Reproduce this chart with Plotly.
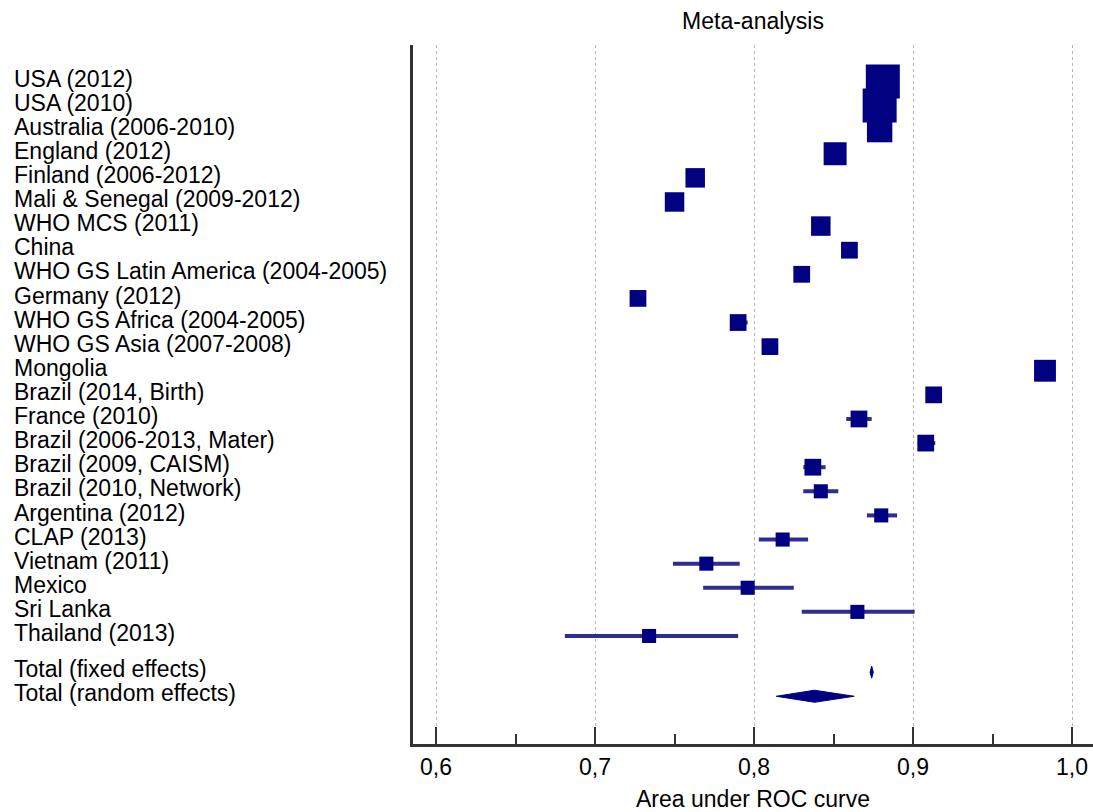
import numpy as np
import plotly.graph_objects as go

# Studies, top to bottom
studies = [
    "USA (2012)", "USA (2010)", "Australia (2006-2010)", "England (2012)",
    "Finland (2006-2012)", "Mali & Senegal (2009-2012)", "WHO MCS (2011)", "China",
    "WHO GS Latin America (2004-2005)", "Germany (2012)", "WHO GS Africa (2004-2005)",
    "WHO GS Asia (2007-2008)", "Mongolia", "Brazil (2014, Birth)", "France (2010)",
    "Brazil (2006-2013, Mater)", "Brazil (2009, CAISM)", "Brazil (2010, Network)",
    "Argentina (2012)", "CLAP (2013)", "Vietnam (2011)", "Mexico", "Sri Lanka",
    "Thailand (2013)",
]
# Area under ROC curve with 95% CI
auc = [0.881, 0.879, 0.879, 0.851, 0.763, 0.750, 0.842, 0.860, 0.830, 0.727, 0.790,
       0.810, 0.983, 0.913, 0.866, 0.908, 0.837, 0.842, 0.880, 0.818, 0.770, 0.796,
       0.865, 0.734]
ci_low = [0.880, 0.878, 0.877, 0.848, 0.759, 0.746, 0.839, 0.856, 0.826, 0.722, 0.786,
          0.805, 0.980, 0.909, 0.858, 0.903, 0.831, 0.831, 0.871, 0.803, 0.749, 0.768,
          0.830, 0.681]
ci_high = [0.882, 0.881, 0.881, 0.853, 0.766, 0.754, 0.845, 0.864, 0.835, 0.732, 0.796,
           0.815, 0.987, 0.917, 0.874, 0.914, 0.845, 0.853, 0.890, 0.834, 0.791, 0.825,
           0.901, 0.790]
# Relative study weight (%)
weight = [7.0, 7.0, 3.9, 3.2, 2.3, 2.3, 2.3, 1.7, 1.7, 1.7, 1.7, 1.7, 2.9, 1.7, 1.7,
          1.7, 1.7, 1.2, 1.2, 1.2, 1.2, 1.2, 1.2, 1.2]

# Pooled estimates
pooled_labels = ["Total (fixed effects)", "Total (random effects)"]
pooled_auc = [0.874, 0.838]
pooled_low = [0.873, 0.814]
pooled_high = [0.875, 0.863]

x_ticks = [0.6, 0.7, 0.8, 0.9, 1.0]

NAVY = "#000080"
CI_COLOR = "#2e2e90"
FONT = "Liberation Sans, Arial, sans-serif"
FS = 23

n = len(studies)
rows = np.arange(n, dtype=float)
pooled_rows = np.array([n + 0.5, n + 1.5])

auc_a = np.array(auc)
sizes = 12.85 * np.sqrt(np.array(weight))

fig = go.Figure()

fig.add_trace(go.Scatter(
    x=auc_a, y=rows, mode="markers",
    marker=dict(symbol="square", size=sizes, color=NAVY, opacity=1,
                line=dict(width=0)),
    error_x=dict(type="data", symmetric=False,
                 array=np.array(ci_high) - auc_a,
                 arrayminus=auc_a - np.array(ci_low),
                 thickness=4, width=0, color=CI_COLOR),
    hoverinfo="skip", showlegend=False,
))

# Pooled diamonds
half_h = 0.25
for est, lo, hi, r in zip(pooled_auc, pooled_low, pooled_high, pooled_rows):
    fig.add_trace(go.Scatter(
        x=[lo, est, hi, est, lo], y=[r, r - half_h, r, r + half_h, r],
        mode="lines", fill="toself", fillcolor=NAVY,
        line=dict(color=NAVY, width=1),
        hoverinfo="skip", showlegend=False,
    ))

L, R, T, B = 413, 0, 45, 68
W, H = 1093, 812
plot_w = W - L - R

# Row labels on the left
for name, r in list(zip(studies, rows)) + list(zip(pooled_labels, pooled_rows)):
    fig.add_annotation(
        x=(12 - L) / plot_w, xref="paper", y=r - 0.12, yref="y",
        text=name, showarrow=False, xanchor="left", yanchor="middle",
        font=dict(family=FONT, size=FS, color="black"),
    )

fig.update_layout(
    width=W, height=H,
    margin=dict(l=L, r=R, t=T, b=B),
    paper_bgcolor="white", plot_bgcolor="white",
    separators=", ",
    font=dict(family=FONT, size=FS, color="black"),
    title=dict(text="Meta-analysis", x=0.5, xref="paper", xanchor="center",
               y=1 - 21 / H, yref="container", yanchor="middle",
               font=dict(family=FONT, size=FS, color="black")),
    xaxis=dict(
        range=[0.5855, 1.0132], tickvals=x_ticks, tickformat=".1f",
        showgrid=True, gridcolor="#b8b8b8", gridwidth=1, griddash="dot",
        zeroline=False, showline=True, linecolor="#333333", linewidth=3,
        ticks="inside", ticklen=17, tickwidth=2, tickcolor="#333333",
        minor=dict(dtick=0.05, ticks="inside", ticklen=10, tickwidth=2,
                   tickcolor="#333333", showgrid=False),
        title=dict(text="Area under ROC curve", standoff=17,
                   font=dict(family=FONT, size=FS)),
        automargin=False, fixedrange=True,
    ),
    yaxis=dict(
        range=[27.48, -1.51], showgrid=False, zeroline=False,
        showline=True, linecolor="#333333", linewidth=3,
        showticklabels=False, ticks="", automargin=False, fixedrange=True,
    ),
)

fig.write_html("out.html")
